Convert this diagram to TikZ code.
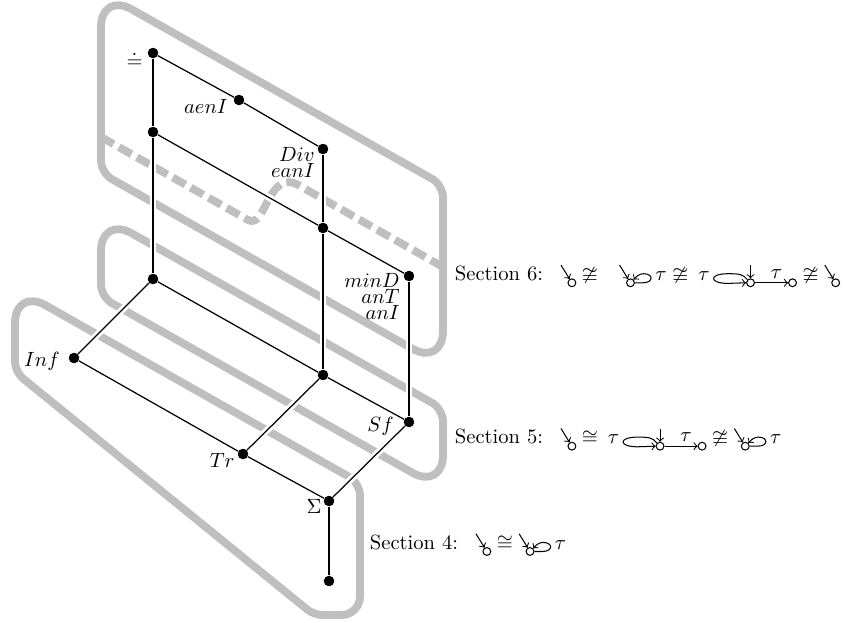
\documentclass[tikz,border=0pt]{standalone}
\usepackage{amssymb}
\tikzset{
  dot/.style={circle,fill=black,draw=none,inner sep=0pt,minimum size=5pt},
  link/.style={draw=black,line width=0.6pt,preaction={draw=white,line width=3.2pt}},
  region/.style={draw=black!25,line width=3.8pt},
  divider/.style={draw=black!25,line width=3.8pt,dash pattern=on 7pt off 3pt},
  lbl/.style={inner sep=0pt},
  sec/.style={inner sep=0pt,anchor=base west},
  st/.style={circle,draw=black,fill=none,inner sep=0pt,minimum size=3.8pt,anchor=center,line width=0.5pt},
  sa/.style={->,draw=black,line width=0.5pt},
}
\newcommand{\pInit}{\tikz[baseline=1.2pt,x=1pt,y=1pt]{%
  \useasboundingbox (-5.5,-2.1) rectangle (2.1,8.8);
  \node[st] (s0) at (0,0) {};
  \coordinate (i0) at (-5.3,8.6);
  \draw[sa] (i0) -- (s0);}}
\newcommand{\pLoopR}{\tikz[baseline=1.2pt,x=1pt,y=1pt]{%
  \useasboundingbox (-5.5,-2.1) rectangle (10.4,8.8);
  \node[st] (s0) at (0,0) {};
  \coordinate (i0) at (-5.3,8.6);
  \draw[sa] (i0) -- (s0);
  \draw[sa] (s0.east) -- (6,0) .. controls (11.3,0) and (11.3,4.4) .. (6.3,4.4)
     .. controls (4.3,4.4) and (2.8,3) .. (s0.north east);}}
\newcommand{\pLoopL}{\tikz[baseline=1.2pt,x=1pt,y=1pt]{%
  \useasboundingbox (-18.2,-2.1) rectangle (22.5,8.8);
  \node[st] (s0) at (0,0) {};
  \node[st] (s1) at (20.4,0) {};
  \coordinate (i0) at (0,8.5);
  \draw[sa] (i0) -- (s0);
  \draw[sa] (s0.north west) .. controls (-3.5,4.3) and (-6,4.4) .. (-11,4.4)
     .. controls (-20.3,4.4) and (-20.3,-0.3) .. (-11,-0.3) -- (s0.west);
  \draw[sa] (s0) -- node[pos=0.65,anchor=base,yshift=2.1pt,inner sep=0pt] {$\tau$} (s1);}}
\begin{document}
\begin{tikzpicture}[x=0.4854pt,y=-0.4854pt]
\useasboundingbox (0,0) rectangle (844,622);
% grey regions
\draw[region] (272,88.5) [rounded corners=6pt] -- (443,185) [rounded corners=17pt] -- (443,366) [rounded corners=6pt] -- (101,173) [rounded corners=17pt] -- (101,-8) [rounded corners=6pt] -- cycle;
\draw[divider] (101,137) -- (248,220) .. controls (266,230) and (268,166) .. (300,186) -- (443,267);
\draw[region] (272,312.5) [rounded corners=6pt] -- (443,409) [rounded corners=17pt] -- (443,490) [rounded corners=6pt] -- (101,297) [rounded corners=17pt] -- (101,216) [rounded corners=6pt] -- cycle;
\draw[region] (187.5,385.5) [rounded corners=6pt] -- (360,483) [rounded corners=9pt] -- (360,615) [rounded corners=4pt] -- (314,615) [rounded corners=5pt] -- (15,372) [rounded corners=17pt] -- (15,288) [rounded corners=6pt] -- cycle;

% lattice nodes
\node[dot] (n0)   at (153,53)  {};
\node[dot] (naen) at (239,100) {};
\node[dot] (ndiv) at (323,149) {};
\node[dot] (nA)   at (153,132) {};
\node[dot] (nB)   at (323,228) {};
\node[dot] (nmin) at (409,276) {};
\node[dot] (nC)   at (153,279) {};
\node[dot] (nD)   at (323,375) {};
\node[dot] (ninf) at (74,358)  {};
\node[dot] (nsf)  at (409,422) {};
\node[dot] (ntr)  at (243,454) {};
\node[dot] (nsig) at (329,501) {};
\node[dot] (nbot) at (329,581) {};

% edges
\draw[link] (n0) -- (naen);
\draw[link] (naen) -- (ndiv);
\draw[link] (n0) -- (nA);
\draw[link] (nA) -- (nB);
\draw[link] (ndiv) -- (nB);
\draw[link] (nB) -- (nmin);
\draw[link] (nA) -- (nC);
\draw[link] (nB) -- (nD);
\draw[link] (nmin) -- (nsf);
\draw[link] (nC) -- (ninf);
\draw[link] (nC) -- (nD);
\draw[link] (ninf) -- (ntr);
\draw[link] (nD) -- (ntr);
\draw[link] (nD) -- (nsf);
\draw[link] (ntr) -- (nsig);
\draw[link] (nsf) -- (nsig);
\draw[link] (nsig) -- (nbot);

% redraw dots on top
\foreach \n in {n0,naen,ndiv,nA,nB,nmin,nC,nD,ninf,nsf,ntr,nsig,nbot}
  \fill (\n) circle (2.5pt);

% labels
\node[lbl,anchor=base east] (l0)   at (143,67.5) {$\doteq$};
\node[lbl,anchor=base east] (laen) at (228,113) {$aenI$};
\node[lbl,anchor=north east,align=right] (ldiv) at (315,147) {$Div$\\[-4.2pt]$eanI$};
\node[lbl,anchor=north east,align=right] (lmin) at (400,273) {$minD$\\[-4.2pt]$anT$\\[-4.2pt]$anI$};
\node[lbl,anchor=base east] (linf) at (60,366) {$Inf$};
\node[lbl,anchor=base east] (ltr)  at (235,467) {$Tr$};
\node[lbl,anchor=base east] (lsf)  at (394,431) {$Sf$};
\node[lbl,anchor=base east] (lsig) at (322,513) {$\Sigma$};

% section texts
\node[sec] (s6) at (454.5,280.3) {Section 6:\hspace{8.5pt}$\pInit\ncong\hspace{7.5pt}\pLoopR\,\tau\ncong\hspace{2pt}\tau\,\pLoopL\ncong\pInit$};
\node[sec] (s5) at (454.5,443.7) {Section 5:\hspace{8.5pt}$\pInit\cong\hspace{2pt}\tau\,\pLoopL\ncong\pLoopR\,\tau$};
\node[sec] (s4) at (369.5,549) {Section 4:\hspace{8.5pt}$\pInit\cong\pLoopR\,\tau$};
\end{tikzpicture}
\end{document}
